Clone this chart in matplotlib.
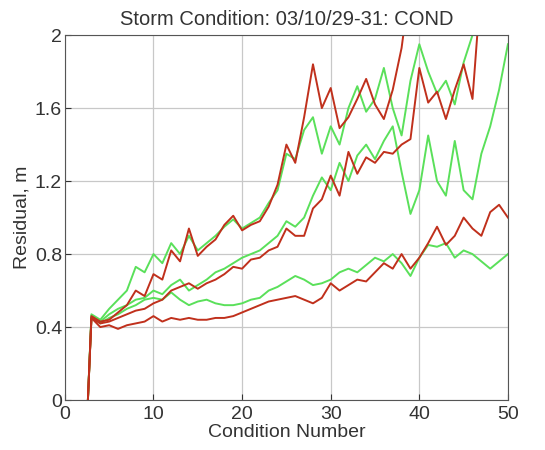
import numpy as np
import matplotlib
matplotlib.use("Agg")
import matplotlib.pyplot as plt

plt.rcParams.update({"font.family": "Liberation Sans", "font.size": 14})

# condition numbers (first point is the start of the run)
cond = [2.6] + list(range(3, 51))
nan = np.nan

red_hi = [0, 0.46, 0.43, 0.44, 0.48, 0.52, 0.60, 0.57, 0.69, 0.66, 0.82, 0.76, 0.94, 0.79,
          0.84, 0.88, 0.96, 1.01, 0.93, 0.96, 0.98, 1.06, 1.18, 1.40, 1.30, 1.55, 1.84, 1.60,
          1.71, 1.49, 1.55, 1.65, 1.76, 1.62, 1.54, 1.70, 1.93, 2.30,
          nan, nan, nan, nan, nan, nan, nan, nan, nan, nan, nan]
grn_hi = [0, 0.47, 0.44, 0.50, 0.55, 0.60, 0.73, 0.70, 0.80, 0.75, 0.86, 0.80, 0.90, 0.82,
          0.86, 0.90, 0.95, 0.99, 0.94, 0.97, 1.00, 1.08, 1.15, 1.35, 1.32, 1.48, 1.55, 1.35,
          1.50, 1.40, 1.60, 1.72, 1.58, 1.65, 1.82, 1.60, 1.45, 1.75, 1.95, 1.80, 1.68, 1.75,
          1.62, 1.85, 2.00, 2.30, nan, nan, nan]
red_mid = [0, 0.45, 0.42, 0.43, 0.45, 0.47, 0.49, 0.50, 0.53, 0.55, 0.60, 0.62, 0.64, 0.61,
           0.64, 0.66, 0.69, 0.73, 0.72, 0.77, 0.78, 0.82, 0.84, 0.94, 0.90, 0.90, 1.05, 1.10,
           1.23, 1.12, 1.36, 1.24, 1.33, 1.30, 1.36, 1.35, 1.40, 1.43, 1.82, 1.63, 1.69, 1.54,
           1.70, 1.84, 1.65, 2.30, nan, nan, nan]
grn_mid = [0, 0.46, 0.43, 0.47, 0.50, 0.52, 0.55, 0.56, 0.60, 0.58, 0.63, 0.66, 0.60, 0.63,
           0.66, 0.70, 0.72, 0.75, 0.78, 0.80, 0.82, 0.86, 0.90, 0.98, 0.95, 1.00, 1.12, 1.22,
           1.15, 1.30, 1.20, 1.34, 1.40, 1.32, 1.42, 1.50, 1.25, 1.02, 1.15, 1.45, 1.20, 1.12,
           1.42, 1.15, 1.10, 1.35, 1.50, 1.70, 1.95]
red_lo = [0, 0.45, 0.40, 0.41, 0.39, 0.41, 0.42, 0.43, 0.46, 0.43, 0.45, 0.44, 0.45, 0.44,
          0.44, 0.45, 0.45, 0.46, 0.48, 0.50, 0.52, 0.54, 0.55, 0.56, 0.57, 0.55, 0.53, 0.56,
          0.64, 0.60, 0.63, 0.66, 0.65, 0.70, 0.75, 0.72, 0.80, 0.72, 0.78, 0.86, 0.95, 0.85,
          0.90, 1.00, 0.94, 0.90, 1.03, 1.07, 1.00]
grn_lo = [0, 0.46, 0.42, 0.45, 0.47, 0.50, 0.52, 0.55, 0.56, 0.55, 0.59, 0.55, 0.52, 0.54,
          0.55, 0.53, 0.52, 0.52, 0.53, 0.55, 0.56, 0.60, 0.62, 0.65, 0.68, 0.66, 0.63, 0.64,
          0.66, 0.70, 0.72, 0.70, 0.74, 0.78, 0.76, 0.80, 0.75, 0.68, 0.78, 0.85, 0.84, 0.86,
          0.78, 0.82, 0.80, 0.76, 0.72, 0.76, 0.80]

RED, GRN = "#c0301c", "#5ae05a"
TXT = "#333333"

fig = plt.figure(figsize=(5.45, 4.5), dpi=100)
ax = fig.add_axes([0.119, 0.111, 0.813, 0.811])

for s in (grn_hi, grn_mid, grn_lo):
    ax.plot(cond, s, color=GRN, lw=1.4)
for s in (red_hi, red_mid, red_lo):
    ax.plot(cond, s, color=RED, lw=1.4)

ax.set_xlim(0, 50)
ax.set_ylim(0, 2)
ax.set_xticks([0, 10, 20, 30, 40, 50])
ax.set_yticks([0, 0.4, 0.8, 1.2, 1.6, 2])
ax.set_yticklabels(["0", "0.4", "0.8", "1.2", "1.6", "2"])
ax.grid(True, color="#c8c8c8", lw=0.9)
ax.set_axisbelow(True)
ax.tick_params(direction="in", length=4, colors=TXT, labelsize=14)
ax.tick_params(axis="y", pad=2)
ax.tick_params(axis="x", pad=4)
for sp in ax.spines.values():
    sp.set_color("#555555")

ax.set_title("Storm Condition: 03/10/29-31: COND", fontsize=14.5, color=TXT, pad=7)
ax.set_xlabel("Condition Number", fontsize=14, color=TXT, labelpad=1)
ax.set_ylabel("Residual, m", fontsize=14, color=TXT, labelpad=3)

fig.savefig("out.png", dpi=100)
